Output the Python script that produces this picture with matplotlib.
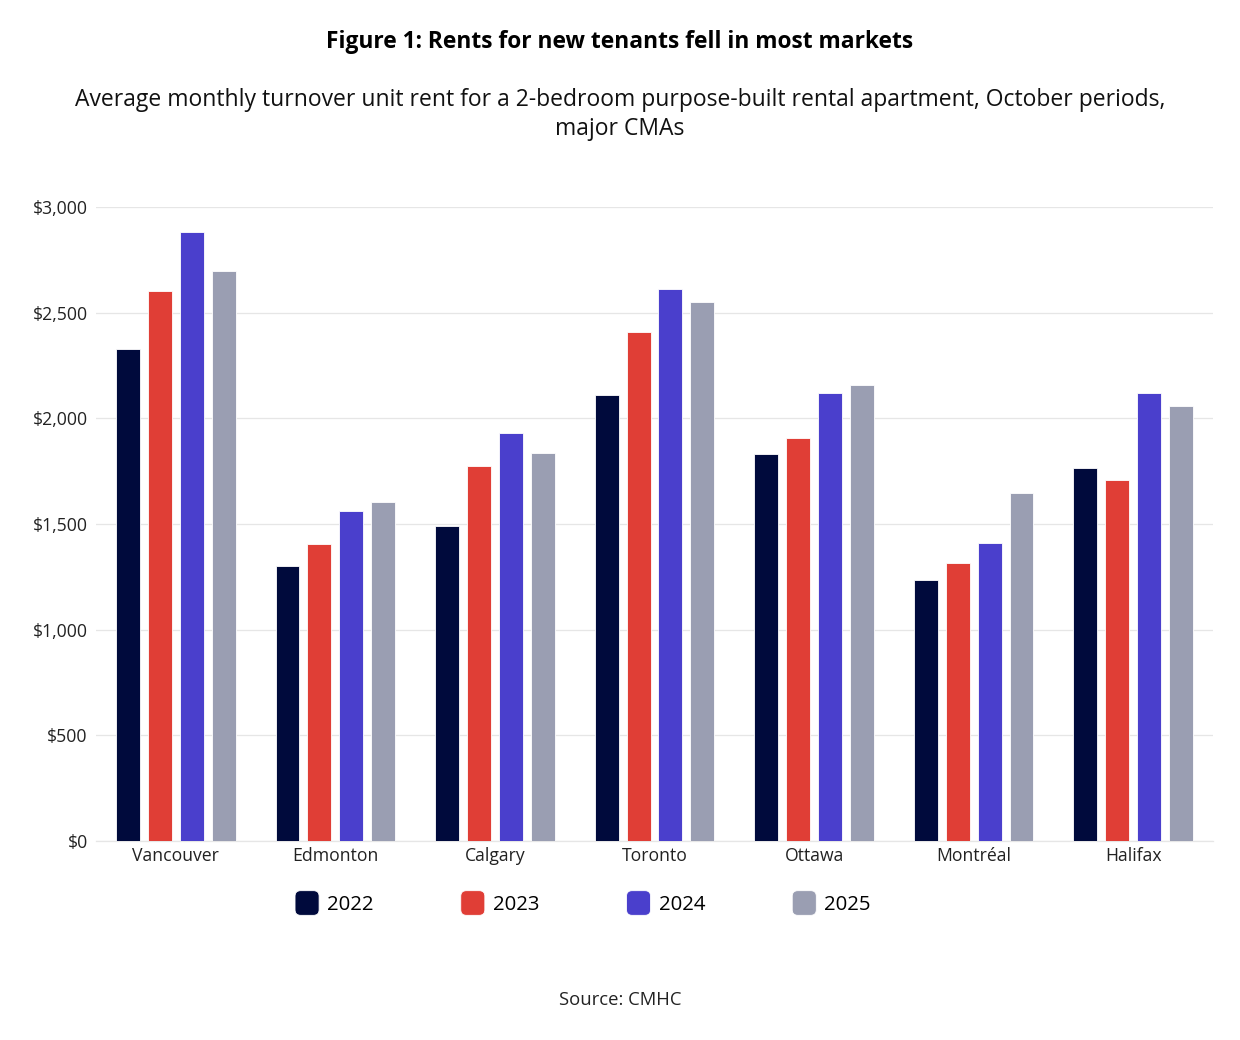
import matplotlib.pyplot as plt
import numpy as np
from matplotlib.patches import FancyBboxPatch
from matplotlib.legend_handler import HandlerPatch
from matplotlib.ticker import FuncFormatter

plt.rcParams['font.family'] = ['Open Sans', 'DejaVu Sans']

cities = ['Vancouver', 'Edmonton', 'Calgary', 'Toronto', 'Ottawa', 'Montréal', 'Halifax']
years = ['2022', '2023', '2024', '2025']
rent_2022 = [2327, 1301, 1491, 2112, 1831, 1235, 1765]
rent_2023 = [2603, 1404, 1774, 2409, 1905, 1314, 1708]
rent_2024 = [2883, 1563, 1931, 2612, 2120, 1410, 2118]
rent_2025 = [2697, 1603, 1838, 2549, 2158, 1647, 2060]
colors = ['#000a3c', '#e03e36', '#4a3fcc', '#9a9eb2']

fig = plt.figure(figsize=(12.4, 10.4), dpi=100)
ax = fig.add_axes([96/1240, 1-841/1040, (1213-96)/1240, (841-207)/1040])

x = np.arange(len(cities))
series = [rent_2022, rent_2023, rent_2024, rent_2025]
bars = []
for i, vals in enumerate(series):
    b = ax.bar(x + (i - 1.5) * 0.2, vals, width=0.15, color=colors[i],
               edgecolor='white', linewidth=0.6, label=years[i], zorder=3)
    bars.append(b)

ax.set_xlim(-0.5, len(cities) - 0.5)
ax.set_ylim(0, 3000)
ax.set_yticks(range(0, 3001, 500))
ax.yaxis.set_major_formatter(FuncFormatter(lambda v, p: '${:,.0f}'.format(v)))
ax.set_xticks(x)
ax.set_xticklabels(cities)
ax.tick_params(axis='both', length=0, labelsize=12.7, colors='#222222')
ax.tick_params(axis='y', pad=6)
ax.tick_params(axis='x', pad=4)
ax.grid(axis='y', color='#e6e6e6', linewidth=0.9, zorder=0)
for s in ['top', 'right', 'left']:
    ax.spines[s].set_visible(False)
ax.spines['bottom'].set_color('#e6e6e6')
ax.spines['bottom'].set_linewidth(0.9)


def round_square(legend, orig_handle, xdescent, ydescent, width, height, fontsize):
    return FancyBboxPatch((-xdescent, -ydescent), width, height,
                          boxstyle='round,pad=0,rounding_size=4')


leg = fig.legend(handles=[b[0] for b in bars], labels=years, loc='center',
                 bbox_to_anchor=(583/1240, 1-903/1040), ncol=4, frameon=False,
                 fontsize=14.7, handlelength=1.18, handleheight=1.48,
                 handletextpad=0.4, columnspacing=4.26,
                 handler_map={b[0]: HandlerPatch(patch_func=round_square) for b in bars})
for h in leg.legend_handles:
    h.set_edgecolor('white')
    h.set_linewidth(0.6)

fig.text(0.5, 1-42.5/1040, 'Figure 1: Rents for new tenants fell in most markets',
         ha='center', va='center', fontsize=16.4, fontweight='bold', color='#000000')
fig.text(0.5, 1-114.5/1040,
         'Average monthly turnover unit rent for a 2-bedroom purpose-built rental apartment, October periods,\nmajor CMAs',
         ha='center', va='center', fontsize=16.5, color='#111111', linespacing=1.27)
fig.text(0.5, 1-1000/1040, 'Source: CMHC', ha='center', va='center',
         fontsize=13.3, color='#222222')

fig.savefig('out.png', dpi=100, facecolor='white')
